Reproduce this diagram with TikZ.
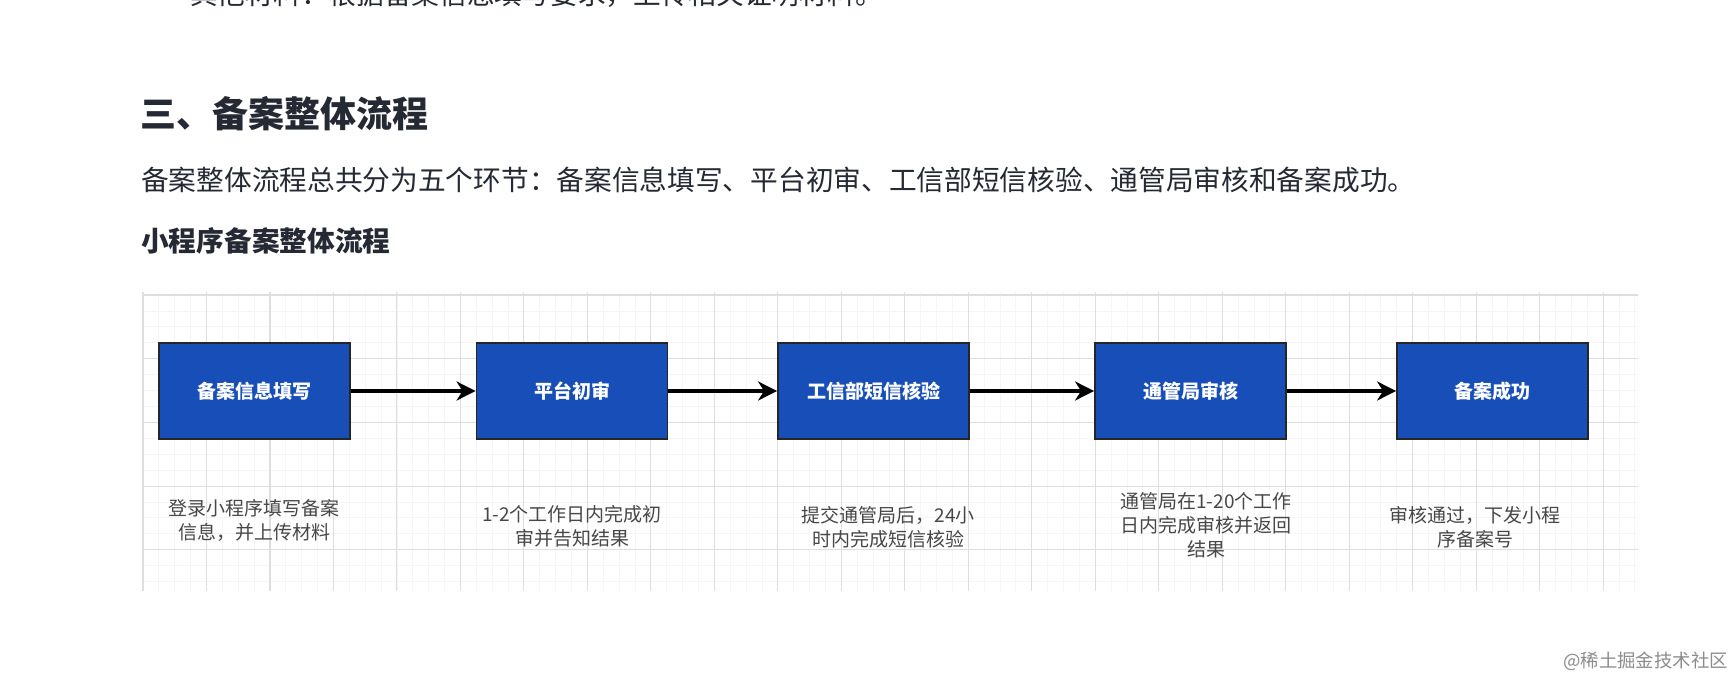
\documentclass[tikz,border=0pt]{standalone}
\usepackage{fontspec}
\setmainfont{Noto Sans CJK SC}
\usetikzlibrary{arrows.meta}
\definecolor{boxblue}{RGB}{24,78,184}
\definecolor{wenzi}{RGB}{37,41,51}

\begin{document}
\begin{tikzpicture}[x=1pt, y=-1pt,
    box/.style={draw=black!85, line width=1.8pt, rectangle, fill=boxblue, text=white,
      font=\fontsize{19}{24}\selectfont\bfseries, minimum width=191pt, minimum height=96pt, inner sep=0pt},
    desc/.style={text=black!72, font=\fontsize{19}{24}\selectfont, align=center, inner sep=0pt},
    liuxian/.style={line width=3.2pt, -{Stealth[length=19pt, width=19pt, inset=6pt]}},
    majorgrid/.style={draw=black!13, line width=1.1pt},
    minorgrid/.style={draw=black!4, line width=0.8pt}]
    \fill[white] (0,0) rectangle (1736,676);
    \useasboundingbox (0,0) rectangle (1736,676);

    % 上一行文字，只露出下半截
    \begin{scope}
      \clip (0,0) rectangle (1736,11);
      \node[anchor=base west, inner sep=0pt, text=wenzi, font=\fontsize{27.7}{33}\selectfont] (shangwen) at (190,5) {其他材料：根据备案信息填写要求，上传相关证明材料。};
    \end{scope}

    % 标题与正文
    \node[anchor=base west, inner sep=0pt, text=wenzi, font=\fontsize{36}{42}\selectfont\bfseries] (biaoti) at (140,127.5) {三、备案整体流程};
    \node[anchor=base west, inner sep=0pt, text=wenzi, font=\fontsize{27.7}{33}\selectfont] (zhengwen) at (141,190.5) {备案整体流程总共分为五个环节：备案信息填写、平台初审、工信部短信核验、通管局审核和备案成功。};
    \node[anchor=base west, inner sep=0pt, text=wenzi, font=\fontsize{27.7}{33}\selectfont\bfseries] (xiaobiaoti) at (141,251.5) {小程序备案整体流程};

    % 背景网格
    \foreach \i in {0,...,94}
      \draw[minorgrid] ({143+15.87*\i},292) -- ({143+15.87*\i},591);
    \foreach \j in {0,...,18}
      \draw[minorgrid] (142,{295+15.92*\j}) -- (1638,{295+15.92*\j});
    \foreach \i in {0,...,23}
      \draw[majorgrid] ({143+63.48*\i},292) -- ({143+63.48*\i},591);
    \foreach \j in {0,...,4}
      \draw[majorgrid] (142,{295+63.7*\j}) -- (1638,{295+63.7*\j});

    % 五个环节
    \node[box] (tianxie) at (254.5,391) {备案信息填写};
    \node[box] (chushen) at (572,391) {平台初审};
    \node[box] (hexiao) at (873.5,391) {工信部短信核验};
    \node[box] (shenhe) at (1190.5,391) {通管局审核};
    \node[box] (chenggong) at (1492.5,391) {备案成功};

    \draw[liuxian] (tianxie) -- (chushen);
    \draw[liuxian] (chushen) -- (hexiao);
    \draw[liuxian] (hexiao) -- (shenhe);
    \draw[liuxian] (shenhe) -- (chenggong);

    % 各环节说明
    \node[desc] (shuoming1) at (254,520) {登录小程序填写备案\\信息，并上传材料};
    \node[desc] (shuoming2) at (572,526) {1-2个工作日内完成初\\审并告知结果};
    \node[desc] (shuoming3) at (888,527) {提交通管局后，24小\\时内完成短信核验};
    \node[desc] (shuoming4) at (1206,525) {通管局在1-20个工作\\日内完成审核并返回\\结果};
    \node[desc] (shuoming5) at (1475,527) {审核通过，下发小程\\序备案号};

    % 水印
    \node[anchor=base east, inner sep=0pt, text=black!45, font=\fontsize{18.4}{22}\selectfont] (shuiyin) at (1728,667) {@稀土掘金技术社区};
\end{tikzpicture}
\end{document}
